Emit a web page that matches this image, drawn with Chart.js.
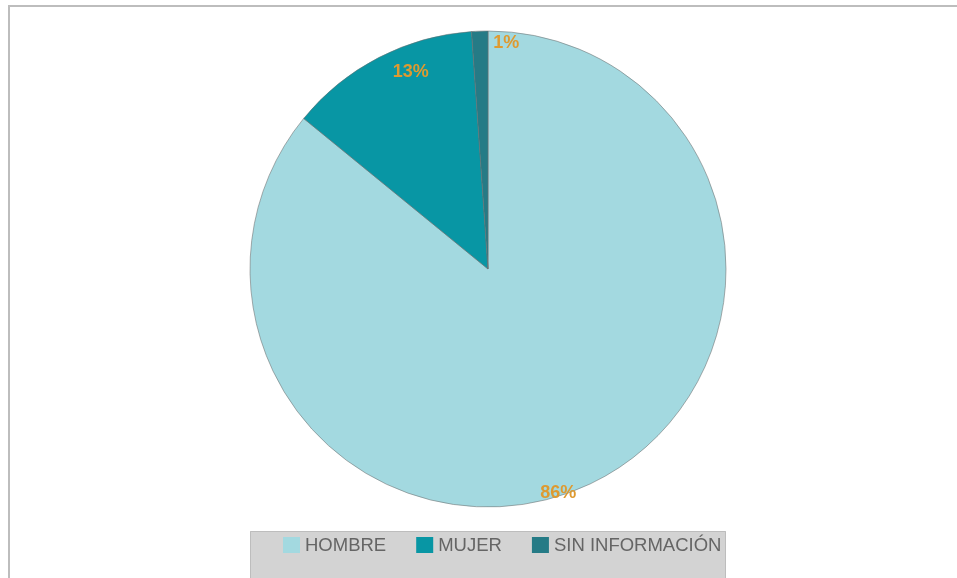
<!DOCTYPE html>
<html>
<head>
<meta charset="utf-8">
<script src="https://cdn.jsdelivr.net/npm/chart.js@4.4.1/dist/chart.umd.min.js"></script>
<style>
    html, body {
        margin: 0;
        padding: 0;
        background: #fff;
        overflow: hidden;
    }
    #frame {
        position: absolute;
        left: 8px;
        top: 5px;
        width: 949px;
        height: 600px;
        border-top: 2px solid #bdbdbd;
        border-left: 2px solid #bdbdbd;
    }
</style>
</head>
<body>
<div id="frame">
    <canvas id="pieChart" width="947" height="600"></canvas>
</div>
<script>

    var categories = ['HOMBRE', 'MUJER', 'SIN INFORMACIÓN'];
    var shares = [85.9, 13.0, 1.1];
    var sliceColors = ['#a3d9e0', '#0896a4', '#257b86'];

    var fontFamily = "'Liberation Sans', Arial, sans-serif";

    // percent labels, placed by angle (deg from top, clockwise) and radius factor
    var percentLabels = {
        id: 'percentLabels',
        afterDatasetsDraw: function (chart, args, opts) {
            var ctx = chart.ctx;
            var meta = chart.getDatasetMeta(0);
            var data = chart.data.datasets[0].data;
            var total = data.reduce(function (a, b) { return a + b; }, 0);
            ctx.save();
            ctx.font = 'bold 18px ' + fontFamily;
            ctx.fillStyle = '#de9a30';
            ctx.textAlign = 'center';
            ctx.textBaseline = 'middle';
            meta.data.forEach(function (arc, i) {
                var spot = opts.spots[i];
                var a = spot.angle * Math.PI / 180;
                var r = arc.outerRadius * spot.r;
                var x = arc.x + r * Math.sin(a);
                var y = arc.y - r * Math.cos(a);
                ctx.fillText(Math.round(data[i] / total * 100) + '%', x, y);
            });
            ctx.restore();
        }
    };

    // grey box legend under the pie
    var boxLegend = {
        id: 'boxLegend',
        afterDraw: function (chart) {
            var ctx = chart.ctx;
            var arc = chart.getDatasetMeta(0).data[0];
            var left = arc.x - arc.outerRadius;
            var right = arc.x + arc.outerRadius;
            var top = arc.y + arc.outerRadius + 24;
            ctx.save();
            ctx.fillStyle = '#d3d3d3';
            ctx.fillRect(left, top, right - left, chart.height - top);
            ctx.strokeStyle = '#bdbdbd';
            ctx.lineWidth = 1;
            ctx.beginPath();
            ctx.moveTo(left + 0.5, chart.height);
            ctx.lineTo(left + 0.5, top + 0.5);
            ctx.lineTo(right - 0.5, top + 0.5);
            ctx.lineTo(right - 0.5, chart.height);
            ctx.stroke();

            ctx.font = '18.5px ' + fontFamily;
            ctx.textAlign = 'left';
            ctx.textBaseline = 'middle';
            var x = left + 33;
            var y = top + 6;
            chart.data.labels.forEach(function (label, i) {
                ctx.fillStyle = chart.data.datasets[0].backgroundColor[i];
                ctx.fillRect(x, y, 17, 16);
                ctx.fillStyle = '#656565';
                ctx.fillText(label, x + 22, y + 8.5);
                x += 22 + ctx.measureText(label).width + 30;
            });
            ctx.restore();
        }
    };

    var pieData = {
        labels: categories,
        datasets: [{
            data: shares,
            backgroundColor: sliceColors,
            borderColor: 'rgba(110,110,110,0.55)',
            borderWidth: 1
        }]
    };

    var pieOptions = {
        responsive: false,
        animation: false,
        radius: 238,
        layout: {
            padding: {left: 9, right: 0, top: 24, bottom: 100}
        },
        plugins: {
            legend: {display: false},
            tooltip: {enabled: false},
            percentLabels: {
                spots: [
                    {angle: 162.6, r: 0.986},
                    {angle: 338.6, r: 0.889},
                    {angle: 4.6, r: 0.953}
                ]
            }
        }
    };

    var ctx = document.getElementById('pieChart').getContext('2d');
    new Chart(ctx, {type: 'pie', data: pieData, options: pieOptions, plugins: [percentLabels, boxLegend]});

</script>
</body>
</html>
